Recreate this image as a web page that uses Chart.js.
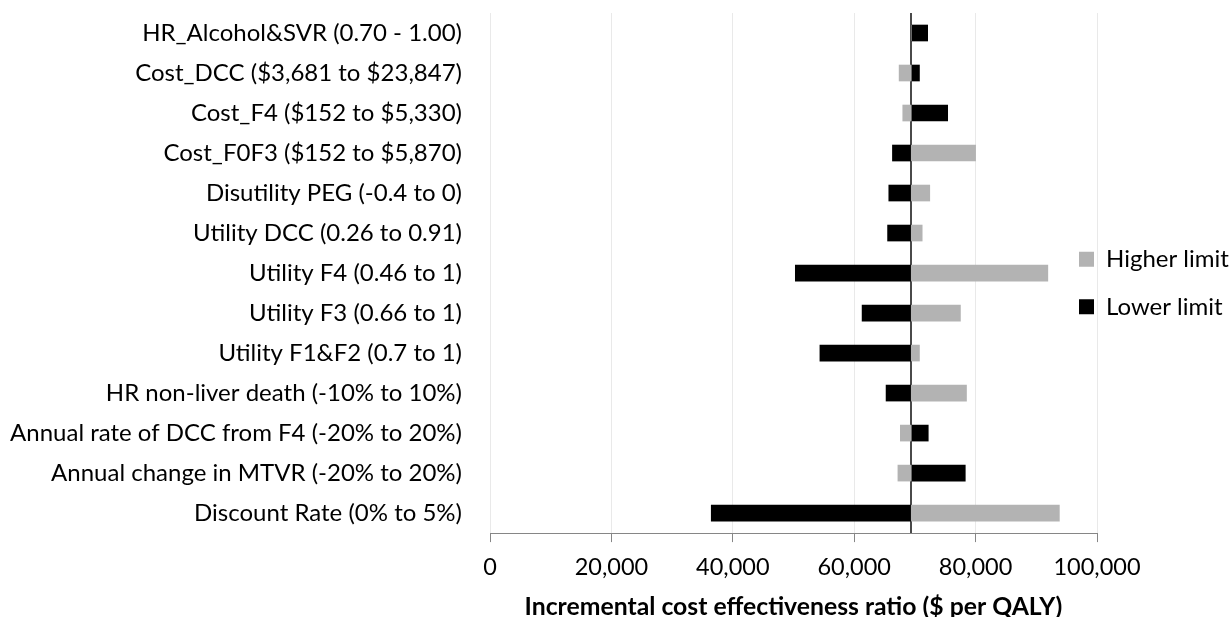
<!DOCTYPE html>
<html>
<head>
<meta charset="utf-8">
<script src="https://cdn.jsdelivr.net/npm/chart.js@4.4.1/dist/chart.umd.min.js"></script>
<style>
  html, body { margin: 0; padding: 0; background: #ffffff; }
  #wrap { width: 1231px; height: 617px; position: relative; }
</style>
</head>
<body>
<div id="wrap"><canvas id="chart" width="1231" height="617"></canvas></div>
<script>
// ---- Data ----
const categories = [
  'HR_Alcohol&SVR (0.70 - 1.00)',
  'Cost_DCC ($3,681 to $23,847)',
  'Cost_F4 ($152 to $5,330)',
  'Cost_F0F3 ($152 to $5,870)',
  'Disutility PEG (-0.4 to 0)',
  'Utility DCC (0.26 to 0.91)',
  'Utility F4 (0.46 to 1)',
  'Utility F3 (0.66 to 1)',
  'Utility F1&F2 (0.7 to 1)',
  'HR non-liver death (-10% to 10%)',
  'Annual rate of DCC from F4 (-20% to 20%)',
  'Annual change in MTVR (-20% to 20%)',
  'Discount Rate (0% to 5%)'
];
const baseCaseICER = 69400;
const higherLimit = [69400, 67400, 68000, 80000, 72450, 71200, 91900, 77500, 70750, 78500, 67600, 67200, 93800];
const lowerLimit  = [72100, 70750, 75400, 66300, 65700, 65500, 50300, 61300, 54350, 65250, 72200, 78300, 36450];
const xTickValues = [0, 20000, 40000, 60000, 80000, 100000];
const seriesNames = ['Higher limit', 'Lower limit'];
const axisTitle = 'Incremental cost effectiveness ratio ($ per QALY)';

// ---- Styles ----
const FONT = 'Lato';
const isBase = (ctx) => ctx.tick && ctx.tick.value === baseCaseICER;
const LEGEND_PAD = 23.5;

// place the legend block just left of the plot's right edge, like the reference
const legendPlacer = {
  id: 'legendPlacer',
  afterLayout(chart) {
    const lg = chart.legend;
    if (!lg) return;
    const ca = chart.chartArea;
    lg.left = ca.right - 18 - LEGEND_PAD;
    lg.right = chart.width;
    lg.width = lg.right - lg.left;
    lg.top = ca.top + 10;
    lg.bottom = ca.bottom + 10;
    lg.height = lg.bottom - lg.top;
  }
};

new Chart(document.getElementById('chart'), {
  type: 'bar',
  data: {
    labels: categories,
    datasets: [
      { label: seriesNames[0], data: higherLimit.map(v => [baseCaseICER, v]), backgroundColor: '#b3b3b3', borderWidth: 0 },
      { label: seriesNames[1], data: lowerLimit.map(v => [baseCaseICER, v]), backgroundColor: '#000000', borderWidth: 0 }
    ]
  },
  options: {
    indexAxis: 'y',
    responsive: false,
    animation: false,
    devicePixelRatio: 1,
    layout: { padding: { top: 13, bottom: -5, left: 0, right: 0 } },
    datasets: { bar: { grouped: false, barThickness: 16 } },
    plugins: {
      tooltip: { enabled: false },
      legend: {
        position: 'right',
        align: 'center',
        maxWidth: 134,
        labels: { boxWidth: 15, boxHeight: 15, padding: LEGEND_PAD, color: '#000000', font: { family: FONT, size: 24 } }
      }
    },
    scales: {
      x: {
        type: 'linear', min: 0, max: 100000,
        afterBuildTicks(scale) {
          scale.ticks = xTickValues.concat([baseCaseICER]).sort((a, b) => a - b).map(v => ({ value: v }));
        },
        ticks: {
          autoSkip: false, maxRotation: 0, padding: 11, color: '#000000',
          font: { family: FONT, size: 23.5, lineHeight: 1.2 },
          callback: (v) => v === baseCaseICER ? '' : Number(v).toLocaleString('en-US')
        },
        grid: {
          color: (ctx) => isBase(ctx) ? '#4a4a4a' : '#e9e9e9',
          lineWidth: (ctx) => isBase(ctx) ? 2 : 1,
          tickColor: (ctx) => isBase(ctx) ? 'rgba(0,0,0,0)' : '#868686',
          tickLength: 9, drawTicks: true
        },
        border: { color: '#868686', width: 1 },
        title: {
          display: true, text: axisTitle, color: '#000000',
          font: { family: FONT, size: 24.75, weight: 'bold', lineHeight: 1.2 },
          padding: { top: 0, bottom: 0 }
        }
      },
      y: {
        type: 'category',
        afterFit(scale) { scale.width = 490; },
        grid: { display: false, drawTicks: true, tickLength: 28 },
        border: { display: false },
        ticks: { padding: 0, color: '#000000', font: { family: FONT, size: 24, lineHeight: 1 } }
      }
    }
  },
  plugins: [legendPlacer]
});
</script>
</body>
</html>
